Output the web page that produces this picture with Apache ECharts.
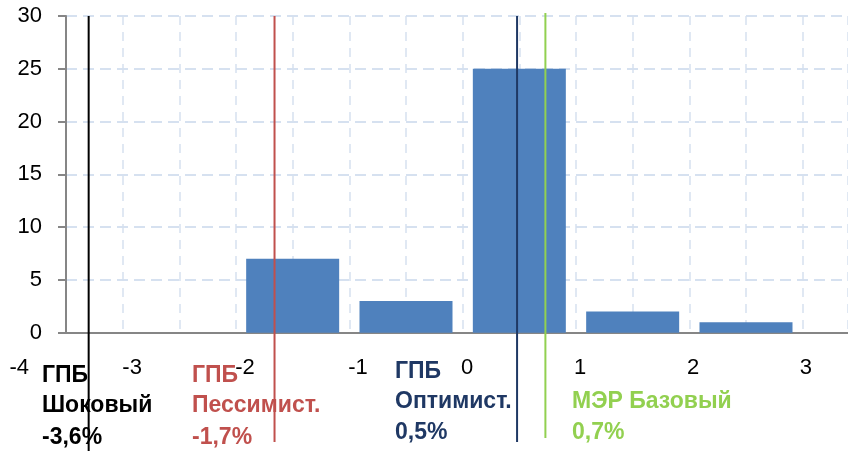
<!DOCTYPE html>
<html><head><meta charset="utf-8">
<script src="https://cdn.jsdelivr.net/npm/echarts@6/dist/echarts.min.js"></script>
<style>html,body{margin:0;padding:0;background:#fff}#c{width:848px;height:451px}</style>
</head><body><div id="c"></div>
<script>
// ---- data ----
const binCenters = [-3.5, -2.5, -1.5, -0.5, 0.5, 1.5, 2.5];
const counts = [0, 0, 7, 3, 25, 2, 1];
const xTickValues = [-4, -3, -2, -1, 0, 1, 2, 3];
const yTickValues = [0, 5, 10, 15, 20, 25, 30];
const scenarioPositions = [-3.3, -1.66, 0.48, 0.73];
const scenarioLabels = [
  ['ГПБ', 'Шоковый', '-3,6%'],
  ['ГПБ', 'Пессимист.', '-1,7%'],
  ['ГПБ', 'Оптимист.', '0,5%'],
  ['МЭР Базовый', '0,7%']
];

// ---- styles / layout ----
const FONT = 'Liberation Sans';
const scenarioStyle = [
  {color: '#000000', top: 16, bottom: 451, textX: 42, textY: [376, 406, 438]},
  {color: '#C0504D', top: 16, bottom: 442, textX: 192, textY: [376, 406, 438]},
  {color: '#1F3864', top: 16, bottom: 442, textX: 395, textY: [372, 402, 433]},
  {color: '#92D050', top: 13, bottom: 438, textX: 572, textY: [402, 433]}
];
const H = 451;
const gridTop = 16, gridBottom = 118.3;
const xMin = -3.5, xMax = 3.4;

const chart = echarts.init(document.getElementById('c'), null, {renderer: 'canvas'});

const lineSeries = scenarioPositions.map((p, i) => ({
  type: 'line', xAxisIndex: 2, yAxisIndex: 2, silent: true,
  symbol: 'none', animation: false, z: 5,
  lineStyle: {color: scenarioStyle[i].color, width: 2},
  data: [[p, scenarioStyle[i].top / H], [p, scenarioStyle[i].bottom / H]]
}));

const texts = [];
scenarioLabels.forEach((lines, i) => {
  const st = scenarioStyle[i];
  lines.forEach((t, j) => {
    texts.push({
      type: 'text', left: st.textX, top: st.textY[j] - 12, silent: true,
      style: {text: t, fill: st.color, font: 'bold 23px "' + FONT + '"'}
    });
  });
});

chart.setOption({
  animation: false,
  grid: [
    {left: 66, right: 0, top: gridTop, bottom: gridBottom},
    {left: 9.4, right: 0, top: gridTop, bottom: gridBottom},
    {left: 66, right: 0, top: 0, bottom: 0}
  ],
  xAxis: [
    {type: 'value', gridIndex: 0, min: xMin, max: xMax, interval: 0.5,
     axisLine: {show: true, onZero: false, lineStyle: {color: '#868686', width: 2}},
     axisTick: {show: false}, axisLabel: {show: false},
     splitLine: {show: true, lineStyle: {color: '#D6E1F0', width: 1.5, type: [9, 7]}}},
    {type: 'value', gridIndex: 1, min: xTickValues[0], max: xMax, interval: 1,
     axisLine: {show: false}, axisTick: {show: false}, splitLine: {show: false},
     axisLabel: {show: true, align: 'left', margin: 24, color: '#000',
       fontFamily: FONT, fontSize: 22,
       formatter: v => xTickValues.indexOf(v) >= 0 ? String(v) : ''}},
    {type: 'value', gridIndex: 2, min: xMin, max: xMax, show: false}
  ],
  yAxis: [
    {type: 'value', gridIndex: 0, min: yTickValues[0], max: yTickValues[yTickValues.length - 1], interval: 5,
     axisLine: {show: true, onZero: false, lineStyle: {color: '#868686', width: 2}},
     axisTick: {show: true, length: 8, lineStyle: {color: '#868686', width: 2}},
     axisLabel: {margin: 24, color: '#000', fontFamily: FONT, fontSize: 22},
     splitLine: {show: true, lineStyle: {color: '#C9D7EC', width: 1.5, type: [11, 6]}}},
    {type: 'value', gridIndex: 1, min: 0, max: 30, show: false},
    {type: 'value', gridIndex: 2, min: 0, max: 1, inverse: true, show: false}
  ],
  series: [
    {type: 'bar', xAxisIndex: 0, yAxisIndex: 0, barWidth: 93,
     itemStyle: {color: '#4F81BD'},
     data: binCenters.map((c, i) => [c, counts[i]])}
  ].concat(lineSeries),
  graphic: texts
});
</script>
</body></html>
